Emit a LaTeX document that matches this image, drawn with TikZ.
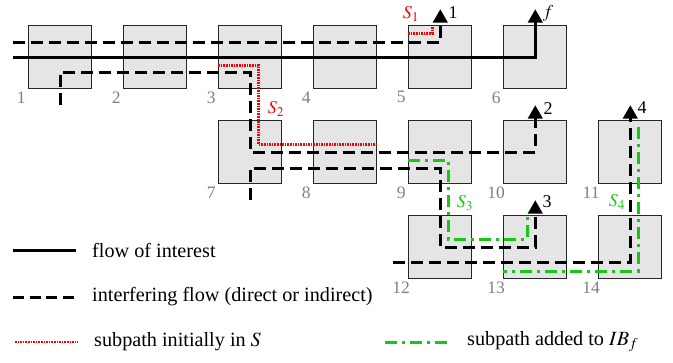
\documentclass[tikz,border=0pt]{standalone}
\usepackage{mathptmx}
\usepackage{fontspec}
\setmainfont{Liberation Serif}
\usetikzlibrary{arrows.meta,calc}
\definecolor{gr}{RGB}{20,200,20}
\definecolor{rd}{RGB}{250,0,0}
\begin{document}
\begin{tikzpicture}[x=1pt,y=-1pt,
  box/.style={draw=black!85, line width=1.3pt, fill=black!10, minimum size=63pt, inner sep=0pt},
  num/.style={text=black!50, font=\fontsize{17.5}{17.5}\selectfont, inner sep=0pt},
  albl/.style={font=\fontsize{18}{18}\selectfont, inner sep=0pt},
  rlbl/.style={text=rd, font=\fontsize{18}{18}\selectfont, inner sep=0pt},
  glbl/.style={text=gr, font=\fontsize{18}{18}\selectfont, inner sep=0pt},
  leg/.style={font=\fontsize{20.2}{21}\selectfont, inner sep=0pt, anchor=west},
  sflow/.style={line width=3pt},
  dflow/.style={line width=3pt, dash pattern=on 12pt off 6pt},
  redp/.style={rd, line width=2.6pt, dash pattern=on 1.6pt off 1pt},
  greenp/.style={gr, line width=3pt, dash pattern=on 12pt off 5pt on 3pt off 5pt},
  arr/.style={-{Triangle[width=14.5pt,length=13.5pt]}},
]
\useasboundingbox (0,0) rectangle (673,362);
% boxes
\foreach \n/\x/\y in {1/60.3/57.2, 2/155.3/57.2, 3/250.3/57.2, 4/345.3/57.2, 5/440.3/57.2, 6/535.3/57.2,
  7/250.3/152.2, 8/345.3/152.2, 9/440.3/152.2, 10/535.3/152.2, 11/630.3/152.2,
  12/440.3/247.2, 13/535.3/247.2, 14/630.3/247.2}{
  \node[box] (b\n) at (\x,\y) {};
  \node[num] (n\n) at ($(b\n.south west)+(-7,8)$) {\n};
}
% free ends
\coordinate (sIn) at (13,57.2);
\coordinate (dIn) at (13,42.2);
\coordinate (cIn) at (393,262.2);
% flow of interest
\draw[sflow,arr] (sIn) -- (b6.center |- sIn) -- ($(b6.center)+(0,-48)$);
% interfering flows
\draw[dflow,arr] (dIn) -- ($(b5.center)+(0,-15)$) -- ($(b5.center)+(0,-48)$);
\draw[dflow,arr] ($(b1.center)+(0,48)$) -- ($(b1.center)+(0,15)$) -- ($(b3.center)+(0,15)$)
  -- (b7.center) -- (b10.center) -- ($(b10.center)+(0,-47)$);
\draw[dflow,arr] ($(b7.center)+(0,48)$) -- ($(b7.center)+(0,16)$) -- ($(b9.center)+(0,16)$)
  -- (b12.center) -- (b13.center) -- ($(b13.center)+(0,-47)$);
\draw[dflow,arr] (cIn) -- ($(b14.center)+(0,15)$) -- ($(b11.center)+(0,-47)$);
% red subpaths
\draw[redp] ($(b5.west)+(0,-24)$) -- ($(b5.center)+(-8,-24)$) -- ($(b5.center)+(-8,-30)$);
\draw[redp] ($(b3.west)+(0,8)$) -- ($(b3.center)+(8,8)$) -- ($(b7.center)+(8,-8)$) -- ($(b8.east)+(0,-8)$);
% green subpaths
\draw[greenp] ($(b9.west)+(0,8)$) -- ($(b9.center)+(8,8)$) -- ($(b12.center)+(8,-8)$)
  -- ($(b13.center)+(-8,-8)$) -- ($(b13.center)+(-8,-30)$);
\draw[greenp] ($(b11.center)+(8,-25)$) -- ($(b14.center)+(8,24)$) -- ($(b13.west)+(0,24)$);
% labels
\node[albl] (a1) at (453,13) {1};
\node[albl] (af) at (548,13) {$f$};
\node[albl] (a2) at (548,109) {2};
\node[albl] (a3) at (547,202) {3};
\node[albl] (a4) at (642,108) {4};
\node[rlbl] (s1) at (411,14) {$S_1$};
\node[rlbl] (s2) at (276,109) {$S_2$};
\node[glbl] (s3) at (465,203) {$S_3$};
\node[glbl] (s4) at (617,202) {$S_4$};
% legend
\coordinate (l1a) at (13,250); \coordinate (l1b) at (76,250);
\coordinate (l2a) at (13,297); \coordinate (l2b) at (74,297);
\coordinate (l3a) at (15,342); \coordinate (l3b) at (78,342);
\coordinate (l4a) at (385,342); \coordinate (l4b) at (449,342);
\draw[sflow] (l1a) -- (l1b);
\draw[dflow,dash pattern=on 11pt off 5.5pt] (l2a) -- (l2b);
\draw[redp] (l3a) -- (l3b);
\draw[greenp] (l4a) -- (l4b);
\node[leg] (t1) at (92,250) {flow of interest};
\node[leg] (t2) at (92,297) {interfering flow (direct or indirect)};
\node[leg] (t3) at (94,342) {subpath initially in $S$};
\node[leg] (t4) at (467,342) {subpath added to $IB_f$};
\end{tikzpicture}
\end{document}
